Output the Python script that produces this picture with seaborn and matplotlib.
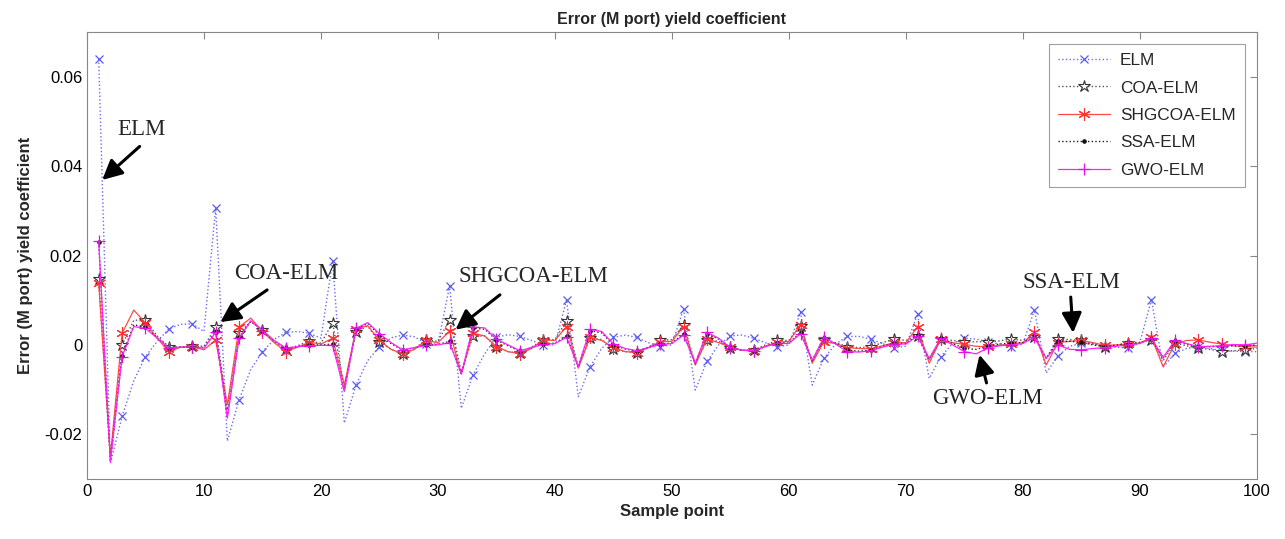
import numpy as np
import pandas as pd
import matplotlib
matplotlib.use("Agg")
import matplotlib.pyplot as plt
import seaborn as sns

# sample points
x_pts = list(range(1, 101))

# values in units of 1e-3
elm = [64.0, -26.5, -16.0, -8.0, -2.6, 0.8, 3.6, 4.6, 4.7, 3.0,
       30.6, -21.5, -12.3, -5.5, -1.5, 1.2, 2.8, 3.0, 2.6, 1.5,
       18.8, -17.5, -9.0, -3.5, -0.4, 1.6, 2.2, 1.8, 0.3, 0.2,
       13.2, -14.2, -6.7, -2.0, 1.7, 2.3, 1.9, 1.0, 0.0, 0.0,
       10.1, -11.6, -4.9, -0.8, 1.7, 2.2, 1.7, 0.5, -0.4, 0.0,
       8.1, -10.1, -3.7, 0.0, 2.0, 2.2, 1.5, 0.5, -0.5, 0.0,
       7.3, -9.0, -3.0, 0.2, 1.9, 1.9, 1.3, 0.3, -0.7, -0.3,
       6.9, -7.5, -2.6, 0.3, 1.5, 1.3, 0.7, 0.2, -0.5, 0.2,
       7.8, -6.3, -2.5, -0.3, 0.4, 0.2, -0.4, -0.5, -0.7, 0.5,
       10.1, -5.0, -1.9, -0.8, -0.4, -0.8, -1.3, -1.4, -1.5, -1.5]

coa = [14.7, -25.5, 0.0, 5.5, 5.6, 2.0, -0.4, -0.5, -0.2, -0.3,
       4.0, -14.5, 2.6, 5.2, 3.4, 0.8, -1.0, -0.2, 0.9, 0.4,
       4.9, -9.5, 3.0, 4.2, 0.7, -1.0, -2.1, -0.8, 1.1, 0.8,
       5.6, -6.0, 2.0, 2.0, -0.5, -1.5, -1.9, -0.5, 1.1, 1.2,
       5.4, -5.0, 1.5, 1.2, -0.9, -1.5, -1.7, -0.5, 1.0, 1.2,
       4.5, -4.2, 1.1, 0.8, -0.7, -1.2, -1.1, 0.0, 1.0, 1.0,
       4.3, -3.8, 1.0, 0.5, -0.4, -0.6, -0.4, 0.5, 1.3, 1.0,
       2.0, -3.5, 1.3, 1.0, 0.7, 0.7, 0.7, 0.9, 1.3, 1.0,
       1.7, -3.0, 1.3, 1.2, 1.0, 0.3, -0.4, 0.0, 0.5, 0.6,
       1.1, -3.5, 0.4, -0.2, -0.7, -1.0, -1.5, -1.3, -1.1, -0.8]

shgcoa = [13.8, -25.0, 2.6, 7.8, 4.9, 1.5, -1.5, -0.5, -0.4, -1.1,
          1.1, -13.4, 4.0, 6.0, 3.0, 0.5, -1.5, -0.5, 0.6, 0.2,
          1.5, -9.0, 3.6, 4.3, 1.0, -1.0, -2.0, -1.0, 1.0, 0.5,
          3.1, -6.5, 2.6, 2.0, -0.4, -1.5, -2.0, -0.8, 1.1, 1.0,
          4.1, -5.2, 1.7, 1.0, -0.6, -1.5, -1.7, -0.6, 0.7, 0.8,
          4.1, -4.5, 1.3, 0.5, -0.5, -1.2, -1.3, -0.3, 0.6, 0.8,
          4.5, -4.1, 0.7, 0.3, -0.6, -0.8, -0.9, -0.2, 0.5, 0.5,
          4.0, -4.1, 1.3, 0.5, 0.1, -0.3, -0.4, -0.1, 0.2, 0.5,
          2.8, -4.5, 0.5, 0.8, 1.0, 0.5, -0.1, 0.0, 0.2, 0.4,
          1.7, -4.9, 0.2, 1.0, 1.1, 0.6, 0.2, -0.2, -0.4, -0.5]

ssa = [23.0, -26.0, -2.4, 4.5, 4.0, 1.6, -0.6, -0.5, -0.4, -0.6,
       3.0, -16.0, 1.7, 5.3, 3.2, 0.9, -0.8, -0.4, 0.0, 0.0,
       0.2, -10.2, 3.6, 4.8, 2.2, 0.3, -1.2, -0.6, 0.0, 0.1,
       0.8, -6.5, 3.8, 3.5, 1.1, -0.2, -1.4, -0.6, 0.2, 0.4,
       2.0, -5.0, 3.2, 2.7, 0.0, -0.9, -1.4, -0.6, 0.2, 0.4,
       2.5, -4.2, 2.5, 1.3, -0.6, -1.2, -1.3, -0.4, 0.5, 0.4,
       2.8, -3.5, 1.5, 0.3, -1.2, -1.4, -1.2, -0.4, 0.4, 0.3,
       2.2, -3.2, 1.5, 0.3, -0.8, -1.0, -0.3, 0.2, 0.4, 0.5,
       1.8, -3.0, 0.8, 0.8, 0.6, 0.0, -0.4, -0.1, 0.2, 0.4,
       1.4, -3.0, 0.8, 0.2, -0.4, -0.4, -0.3, -0.2, -0.3, 0.0]

gwo = [23.2, -26.2, -2.6, 4.1, 3.7, 1.5, -0.7, -0.5, -0.5, -0.7,
       2.8, -16.4, 1.5, 5.4, 3.2, 1.0, -0.7, -0.4, -0.2, -0.1,
       -0.1, -10.4, 3.7, 5.0, 2.5, 0.5, -1.1, -0.6, -0.1, 0.0,
       0.5, -6.5, 4.0, 3.8, 1.3, 0.0, -1.3, -0.6, 0.1, 0.3,
       1.7, -4.9, 3.5, 3.0, 0.2, -0.8, -1.3, -0.6, 0.1, 0.3,
       2.2, -4.1, 2.8, 1.5, -0.6, -1.2, -1.3, -0.4, 0.4, 0.3,
       2.5, -3.4, 1.7, 0.2, -1.5, -1.6, -1.3, -0.5, 0.2, 0.2,
       2.0, -3.0, 1.5, 0.0, -1.5, -2.0, -0.7, -0.2, 0.0, 0.3,
       1.7, -3.0, 0.0, -1.0, -1.1, -0.8, -0.6, -0.3, 0.0, 0.3,
       1.5, -2.8, 1.0, 0.3, -0.4, -0.3, -0.2, 0.1, 0.0, 0.4]

series_names = ["ELM", "COA-ELM", "SHGCOA-ELM", "SSA-ELM", "GWO-ELM"]
x_ticks = [0, 10, 20, 30, 40, 50, 60, 70, 80, 90, 100]
y_ticks = [-0.02, 0, 0.02, 0.04, 0.06]
y_tick_labels = ["-0.02", "0", "0.02", "0.04", "0.06"]

sns.set_theme(style="white")
plt.rcParams["font.family"] = ["Liberation Sans", "DejaVu Sans"]

fig = plt.figure(figsize=(12.85, 5.39), dpi=100)
ax = fig.add_axes([0.0677, 0.1113, 0.9103, 0.8293])

scale = 1e-3
styles = [
    dict(color="#6b6bf0", linestyle=":", marker="x", markersize=6, mew=0.9, lw=1.0,
         mfc="none", mec="#5a5af0"),
    dict(color="#555555", linestyle=":", marker="*", markersize=9, mew=0.8, lw=1.0,
         mfc="white", mec="#333333"),
    dict(color="#ff4a4a", linestyle="-", marker=(6, 2, 0), markersize=9, mew=0.8, lw=0.9,
         mec="#ff3030"),
    dict(color="#222222", linestyle=":", marker=".", markersize=5, mew=0.8, lw=1.0,
         mec="#111111", mfc="#111111"),
    dict(color="#ff22ff", linestyle="-", marker="+", markersize=8, mew=0.9, lw=0.9,
         mec="#e010e0"),
]
data_list = [elm, coa, shgcoa, ssa, gwo]
for name, vals, st in zip(series_names, data_list, styles):
    df = pd.DataFrame({"x": x_pts, "y": np.array(vals) * scale})
    sns.lineplot(data=df, x="x", y="y", ax=ax, label=name, markevery=2,
                 errorbar=None, **st)

ax.set_xlim(0, 100)
ax.set_ylim(-0.03, 0.07)
ax.set_xticks(x_ticks)
ax.set_yticks(y_ticks)
ax.set_yticklabels(y_tick_labels)
ax.tick_params(direction="in", length=5, width=0.8, colors="#888888",
               labelcolor="black", labelsize=12, top=True, right=True)
for sp in ax.spines.values():
    sp.set_color("#888888")
    sp.set_linewidth(0.8)

ax.set_title("Error (M port) yield coefficient", fontsize=11.5, fontweight="bold", pad=6)
ax.set_xlabel("Sample point", fontsize=12, fontweight="bold", labelpad=4)
ax.set_ylabel("Error (M port) yield coefficient", fontsize=12, fontweight="bold", labelpad=8)

leg = ax.legend(loc="upper right", bbox_to_anchor=(0.9975, 0.9935), fontsize=12.4,
                frameon=True, fancybox=False, edgecolor="#888888",
                handlelength=3.0, handletextpad=0.6, labelspacing=0.72, borderpad=0.55)
leg.get_frame().set_linewidth(0.8)

arrow = dict(arrowstyle="-|>", color="black", lw=2.2, mutation_scale=30,
             shrinkA=0, shrinkB=0)
tfont = dict(family=["Liberation Serif", "DejaVu Serif"], fontsize=16.5)
ax.annotate("", xy=(1.3, 0.0369), xytext=(4.5, 0.0444), arrowprops=arrow)
ax.text(4.7, 0.0483, "ELM", ha="center", va="center", **tfont)
ax.annotate("", xy=(11.4, 0.0051), xytext=(15.4, 0.0123), arrowprops=arrow)
ax.text(17.0, 0.0159, "COA-ELM", ha="center", va="center", **tfont)
ax.annotate("", xy=(31.5, 0.0034), xytext=(35.3, 0.0112), arrowprops=arrow)
ax.text(38.2, 0.0152, "SHGCOA-ELM", ha="center", va="center", **tfont)
ax.annotate("", xy=(84.3, 0.0027), xytext=(84.1, 0.0107), arrowprops=arrow)
ax.text(84.2, 0.0139, "SSA-ELM", ha="center", va="center", **tfont)
ax.annotate("", xy=(76.3, -0.0022), xytext=(76.9, -0.0085), arrowprops=arrow)
ax.text(77.0, -0.0121, "GWO-ELM", ha="center", va="center", **tfont)

fig.savefig("out.png", dpi=100, facecolor="white")
